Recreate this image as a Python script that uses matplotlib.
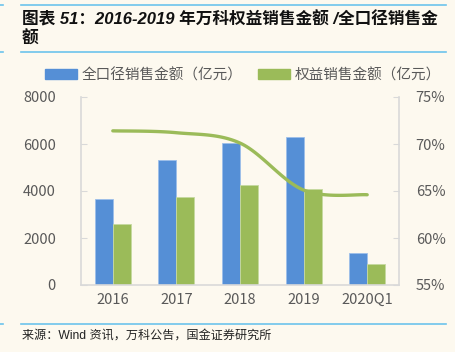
import numpy as np
import matplotlib
matplotlib.use("Agg")
import matplotlib.pyplot as plt
from matplotlib.lines import Line2D
from matplotlib.patches import Patch

plt.rcParams['font.family'] = ['Noto Sans CJK SC', 'DejaVu Sans']

categories = ['2016', '2017', '2018', '2019', '2020Q1']
total_sales = [3647, 5299, 6055, 6284, 1374]
equity_sales = [2596, 3745, 4242, 4072, 880]
equity_ratio = [71.4, 71.2, 70.1, 65.1, 64.6]
left_ticks = [0, 2000, 4000, 6000, 8000]
right_ticks = [55, 60, 65, 70, 75]

BG = '#FDF9EF'
BLUE = '#558FD6'
GREEN = '#9BBB59'
TXT = '#595959'
AX = '#D9D9D9'
RULE = '#6CC3EC'
LATIN_CJK = ['Liberation Sans', 'Noto Sans CJK SC']

W, H = 456, 352
fig = plt.figure(figsize=(W/100, H/100), dpi=100, facecolor=BG)

ax = fig.add_axes([81/W, 1-285/H, (399-81)/W, (285-97)/H])
ax.set_facecolor(BG)
x = np.arange(len(categories))
bw = 0.283
ax.bar(x - bw/2, total_sales, bw, color=BLUE, edgecolor='#9DBFEA', linewidth=0.6, zorder=2)
ax.bar(x + bw/2, equity_sales, bw, color=GREEN, edgecolor='#C6D9A0', linewidth=0.6, zorder=2)
ax.set_xlim(-0.5, len(categories)-0.5)
ax.set_ylim(0, 8000)
ax.set_yticks(left_ticks)
ax.set_yticklabels([str(t) for t in left_ticks])
ax.set_xticks(x)
ax.set_xticklabels(categories)
for s in ['top', 'right']:
    ax.spines[s].set_visible(False)
for s in ['left', 'bottom']:
    ax.spines[s].set_color(AX)
    ax.spines[s].set_linewidth(1.2)
ax.tick_params(axis='y', direction='in', length=4, color=AX, labelsize=10.5, labelcolor=TXT, pad=18)
ax.tick_params(axis='x', length=0, labelsize=10.5, labelcolor=TXT, pad=6)

ax2 = ax.twinx()
ax2.set_ylim(55, 75)
ax2.set_yticks(right_ticks)
ax2.set_yticklabels([f'{t}%' for t in right_ticks])
for s in ['top', 'left', 'bottom']:
    ax2.spines[s].set_visible(False)
ax2.spines['right'].set_color(AX)
ax2.spines['right'].set_linewidth(1.2)
ax2.tick_params(axis='y', direction='in', length=4, color=AX, labelsize=10.5, labelcolor=TXT, pad=12)

# smoothed line (Excel-style Bezier smoothing through the data points)
def smooth(xs, ys, n=30):
    xs = np.asarray(xs, float); ys = np.asarray(ys, float)
    px, py = [], []
    m = len(xs)
    for i in range(m-1):
        x0, y0 = (xs[i-1], ys[i-1]) if i > 0 else (xs[i], ys[i])
        x1, y1 = xs[i], ys[i]
        x2, y2 = xs[i+1], ys[i+1]
        x3, y3 = (xs[i+2], ys[i+2]) if i+2 < m else (xs[i+1], ys[i+1])
        c1x, c1y = x1 + (x2-x0)/6, y1 + (y2-y0)/6
        c2x, c2y = x2 - (x3-x1)/6, y2 - (y3-y1)/6
        t = np.linspace(0, 1, n)
        bx = (1-t)**3*x1 + 3*(1-t)**2*t*c1x + 3*(1-t)*t**2*c2x + t**3*x2
        by = (1-t)**3*y1 + 3*(1-t)**2*t*c1y + 3*(1-t)*t**2*c2y + t**3*y2
        px.extend(bx); py.extend(by)
    return px, py

sx, sy = smooth(x, equity_ratio)
ax2.plot(sx, sy, color=GREEN, lw=2.4, solid_capstyle='round', zorder=3)

# legend
handles = [Patch(color=BLUE), Patch(color=GREEN)]
fig.legend(handles, ['全口径销售金额（亿元）', '权益销售金额（亿元）'],
           loc='center', bbox_to_anchor=(243/W, 1-75/H), ncol=2, frameon=False,
           fontsize=10.5, labelcolor=TXT, handlelength=2.2, handleheight=0.6,
           handletextpad=0.3, columnspacing=1.1)

# header / footer rules
for yy in [5, 52, 324]:
    fig.add_artist(Line2D([21/W, 446/W], [1-yy/H, 1-yy/H], color=RULE, lw=1.2))
    fig.add_artist(Line2D([0, 3/W], [1-yy/H, 1-yy/H], color=RULE, lw=1.2))

fig.text(22/W, 1-25/H, '图表 51：2016-2019 年万科权益销售金额 /全口径销售金',
         fontsize=12, fontweight='bold', style='italic', color='#111111',
         va='baseline', family=LATIN_CJK)
fig.text(22/W, 1-44/H, '额', fontsize=12, fontweight='bold', style='italic',
         color='#111111', va='baseline', family=LATIN_CJK)
fig.text(22/W, 1-336/H, '来源：Wind 资讯，万科公告，国金证券研究所', fontsize=8.7,
         color='#222222', va='center', family=LATIN_CJK)

fig.savefig('out.png', dpi=100, facecolor=BG)
